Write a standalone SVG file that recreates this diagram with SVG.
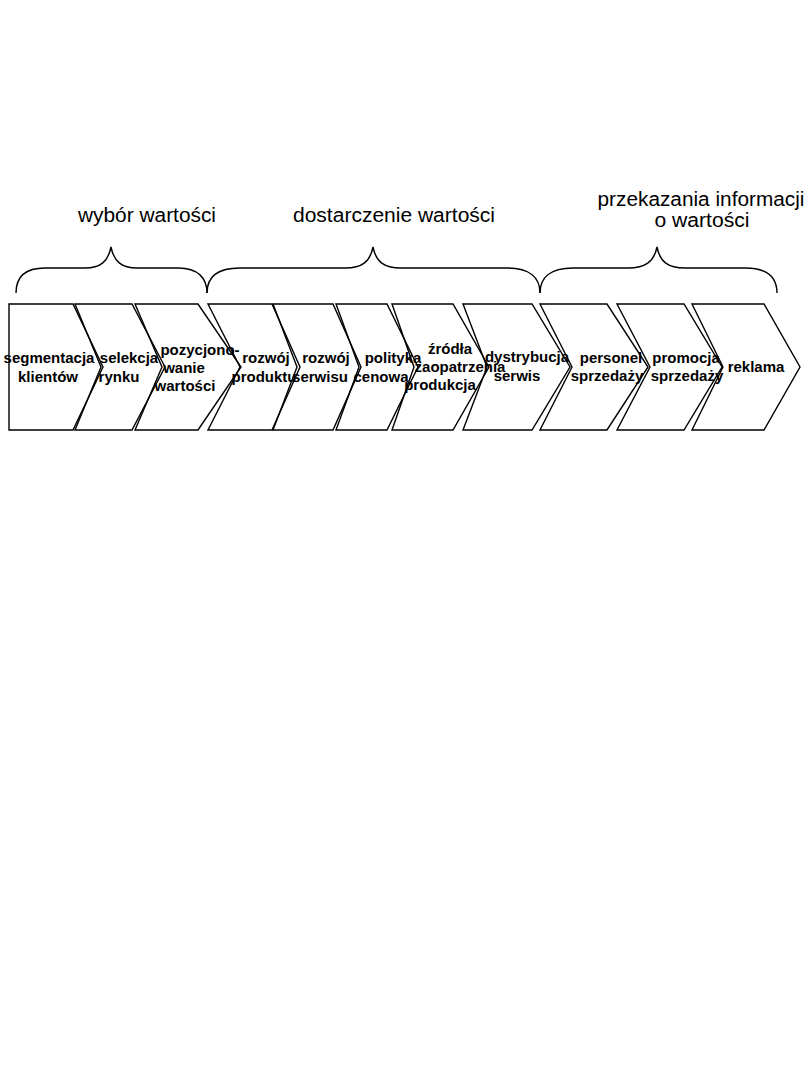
<svg xmlns="http://www.w3.org/2000/svg" width="810" height="1080" viewBox="0 0 810 1080">
<style>
.bg{fill:#fff}
.ch{fill:none;stroke:#000;stroke-width:1.4;stroke-linejoin:miter}
.br{fill:none;stroke:#000;stroke-width:1.4}
.h{font-family:"Liberation Sans",Arial,sans-serif;font-size:20px;fill:#000;text-anchor:middle}
.t{font-family:"Liberation Sans",Arial,sans-serif;font-size:15px;font-weight:bold;fill:#000;text-anchor:middle}
</style>
<rect class="bg" x="0" y="0" width="810" height="1080"/>
<g id="headers">
<g id="h-wybor"><text class="h" x="147" y="222" textLength="138" lengthAdjust="spacingAndGlyphs">wybór wartości</text></g>
<g id="h-dostarczenie"><text class="h" x="394" y="222" textLength="202" lengthAdjust="spacingAndGlyphs">dostarczenie wartości</text></g>
<g id="h-przekazania"><text class="h" x="701" y="206" textLength="207" lengthAdjust="spacingAndGlyphs">przekazania informacji</text><text class="h" x="702" y="227" textLength="95" lengthAdjust="spacingAndGlyphs">o wartości</text></g>
</g>
<g id="braces">
<path class="br" d="M16,293 C16,278 24,268 45,268 L85,268 C100,268 108,262 111,247 C114,262 122,268 137,268 L178,268 C198,268 207,278 207,293"/>
<path class="br" d="M207,293 C207,278 216,268 240,268 L345,268 C362,268 370,262 373,247 C376,262 384,268 401,268 L507,268 C530,268 540,278 540,293"/>
<path class="br" d="M540,293 C540,278 550,268 573,268 L628,268 C645,268 654,262 657,247 C660,262 668,268 685,268 L745,268 C768,268 777,278 777,293"/>
</g>
<g id="n1"><polygon class="ch" points="9,304 73,304 103,367 73,430 9,430"/><text class="t" x="49" y="363">segmentacja</text><text class="t" x="48" y="382">klientów</text></g>
<g id="n2"><polygon class="ch" points="75,304 132,304 165,367 132,430 75,430 101,367"/><text class="t" x="129" y="363">selekcja</text><text class="t" x="119" y="382">rynku</text></g>
<g id="n3"><polygon class="ch" points="135,304 198,304 241,367 198,430 135,430 162,367"/><text class="t" x="200" y="355">pozycjono-</text><text class="t" x="184" y="373">wanie</text><text class="t" x="185" y="391">wartości</text></g>
<g id="n4"><polygon class="ch" points="208,304 272,304 300,367 272,430 208,430 240,367"/><text class="t" x="266" y="363">rozwój</text><text class="t" x="264" y="382">produktu</text></g>
<g id="n5"><polygon class="ch" points="273,304 333,304 361,367 333,430 273,430 297,367"/><text class="t" x="326" y="363">rozwój</text><text class="t" x="320" y="382">serwisu</text></g>
<g id="n6"><polygon class="ch" points="336,304 387,304 418,367 387,430 336,430 359,367"/><text class="t" x="393" y="363">polityka</text><text class="t" x="381" y="382">cenowa</text></g>
<g id="n7"><polygon class="ch" points="392,304 453,304 489,367 453,430 392,430 414,367"/><text class="t" x="450" y="354">źródła</text><text class="t" x="460" y="372">zaopatrzenia</text><text class="t" x="440" y="390">produkcja</text></g>
<g id="n8"><polygon class="ch" points="463,304 532,304 570,367 532,430 463,430 487,367"/><text class="t" x="527" y="362">dystrybucja</text><text class="t" x="517" y="381">serwis</text></g>
<g id="n9"><polygon class="ch" points="540,304 607,304 648,367 607,430 540,430 572,367"/><text class="t" x="611" y="363">personel</text><text class="t" x="607" y="381">sprzedaży</text></g>
<g id="n10"><polygon class="ch" points="617,304 684,304 722,367 684,430 617,430 650,367"/><text class="t" x="686" y="363">promocja</text><text class="t" x="687" y="381">sprzedaży</text></g>
<g id="n11"><polygon class="ch" points="692,304 764,304 800,367 764,430 692,430 723,367"/><text class="t" x="756" y="372">reklama</text></g>
<g id="connectors"></g>
</svg>
